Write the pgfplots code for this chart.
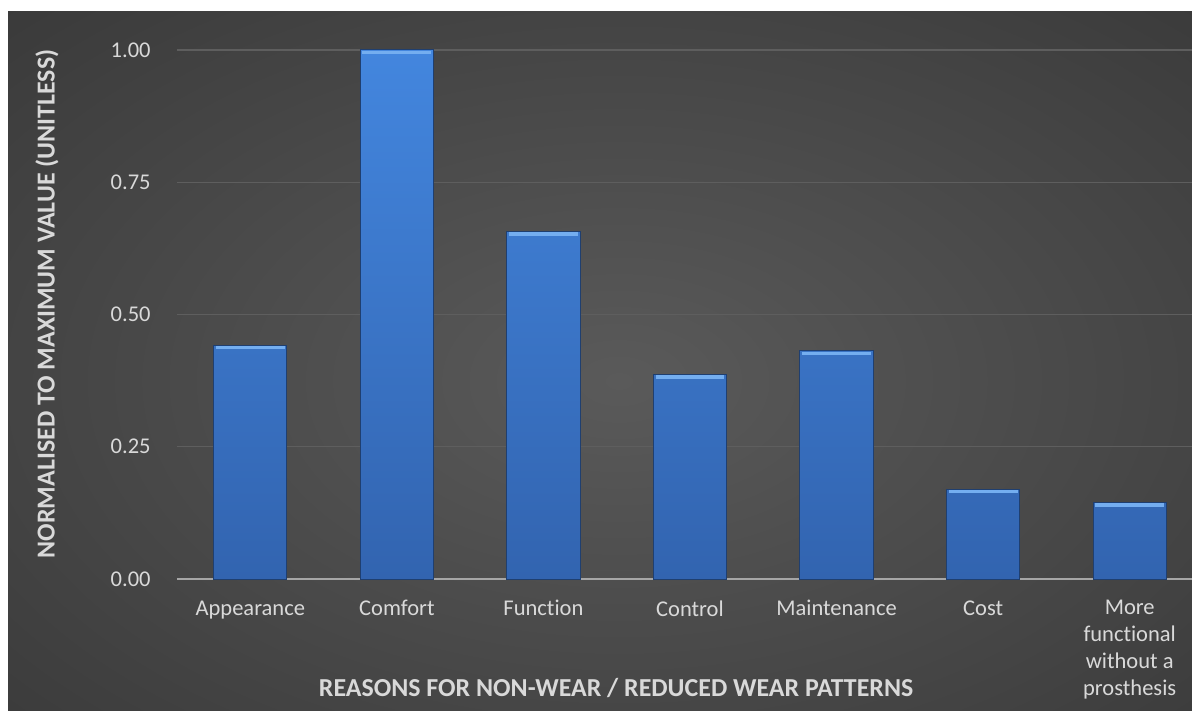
\documentclass[border=0pt]{standalone}
\usepackage{fontspec}
\setmainfont{Carlito}[Ligatures={NoCommon}]
\usepackage{pgfplots}
\pgfplotsset{compat=1.18}

\definecolor{bgInner}{HTML}{5A5A5A}
\definecolor{bgOuter}{HTML}{262626}
\definecolor{txt}{HTML}{D9D9D9}
\definecolor{gridc}{HTML}{5E5E5E}
\definecolor{axisc}{HTML}{A6A6A6}
\definecolor{barTop}{HTML}{4386DE}
\definecolor{barBot}{HTML}{3264B0}
\definecolor{barEdge}{HTML}{1F3F70}
\definecolor{barHi}{HTML}{74AEF0}

\pgfdeclareradialshading{panel}{\pgfpoint{0bp}{0bp}}{%
  color(0bp)=(bgInner); color(58bp)=(bgOuter); color(80bp)=(bgOuter)}

\begin{document}
\begin{tikzpicture}
  % page: 596bp x 355.5bp (0.5bp per unit of a 1192 x 711 grid)
  \clip (0bp,0bp) rectangle (596bp,355.5bp);
  \fill[white] (0bp,0bp) rectangle (596bp,355.5bp);
  \shade[shading=panel] (4bp,-20bp) rectangle (615bp,350bp);
  \fill[white] (0bp,350bp) rectangle (596bp,355.5bp);

  \begin{axis}[
    at={(88.5bp,66bp)}, anchor=south west,
    scale only axis,
    width=513bp, height=264.5bp,
    xmin=-0.5, xmax=6.5,
    ymin=0, ymax=1,
    axis line style={draw=none},
    axis x line*=bottom,
    axis y line*=left,
    major tick length=0pt,
    ytick={0,0.25,0.5,0.75,1},
    yticklabel style={
      /pgf/number format/.cd, fixed, fixed zerofill, precision=2,
      /pgf/number format/assume math mode=true,
      /tikz/.cd, anchor=east, inner sep=0pt, xshift=-13bp,
      font=\fontsize{11.3}{13.5}\selectfont, text=txt},
    ymajorgrids,
    grid style={gridc, line width=0.6bp},
    xtick={0,...,6},
    xticklabels={Appearance, Comfort, Function, Control, Maintenance, Cost,
      {More\\functional\\without a\\prosthesis}},
    xticklabel style={anchor=north, inner sep=0pt, yshift=-10.5bp,
      align=center, font=\fontsize{11.3}{13.5}\selectfont, text=txt,
      execute at begin node={\vphantom{Cf}}},
    xlabel={REASONS FOR NON-WEAR / REDUCED WEAR PATTERNS},
    xlabel style={at={(axis description cs:0.428,-0.223)}, anchor=base,
      font=\bfseries\fontsize{13}{15}\selectfont, text=txt},
    ylabel={NORMALISED TO MAXIMUM VALUE (UNITLESS)},
    ylabel style={at={(axis description cs:-0.1267,0.52)}, anchor=center,
      rotate=0, font=\bfseries\fontsize{13}{15}\selectfont, text=txt},
    clip=false,
  ]
    % baseline of the value axis
    \draw[axisc, line width=1bp] (axis cs:-0.5,0) -- (axis cs:6.8,0);

    \addplot[ybar, bar width=0.5, bar shift=0pt,
      top color=barTop, bottom color=barBot, draw=barEdge, line width=0.5bp]
      coordinates {(0,0.442) (1,1.000) (2,0.656) (3,0.386)
                   (4,0.431) (5,0.170) (6,0.144)};

    % light bevel along the top of each bar
    \addplot[draw=none, mark=none, forget plot,
      error bars/.cd, x dir=both, x fixed=0.235,
      error mark=none,
      error bar style={draw=barHi, line width=1.6bp}]
      coordinates {(0,0.438) (1,0.996) (2,0.652) (3,0.382)
                   (4,0.427) (5,0.166) (6,0.140)};
  \end{axis}
\end{tikzpicture}
\end{document}
